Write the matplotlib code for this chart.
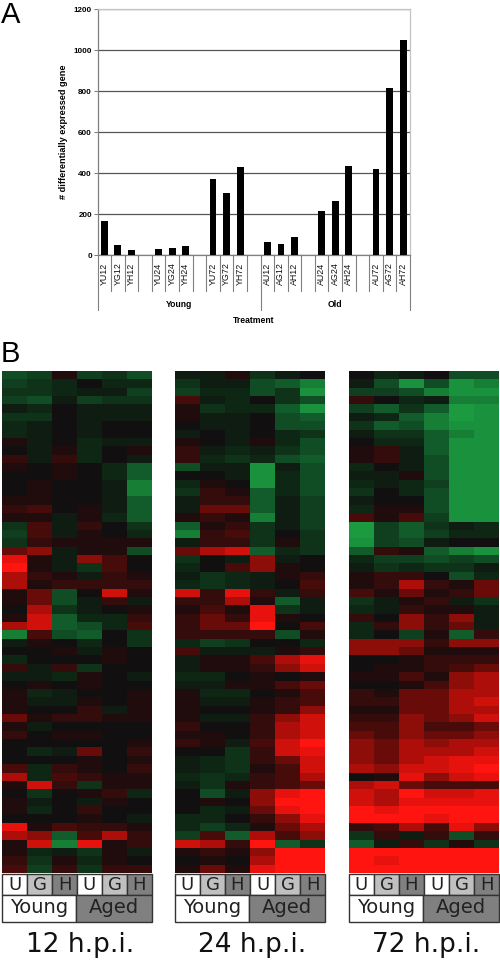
import matplotlib
matplotlib.use("Agg")
import matplotlib.pyplot as plt
import numpy as np
from matplotlib.colors import LinearSegmentedColormap
from matplotlib.patches import Rectangle

W, H = 500, 961

bar_labels = ["YU12", "YG12", "YH12", "", "YU24", "YG24", "YH24", "", "YU72", "YG72", "YH72", "",
              "AU12", "AG12", "AH12", "", "AU24", "AG24", "AH24", "", "AU72", "AG72", "AH72"]
bar_values = [165, 48, 24, 0, 28, 36, 45, 0, 370, 305, 428, 0,
              65, 52, 90, 0, 213, 262, 437, 0, 418, 818, 1050]
y_ticks = [0, 200, 400, 600, 800, 1000, 1200]
group_labels = ["Young", "Old"]
time_labels = ["12 h.p.i.", "24 h.p.i.", "72 h.p.i."]
treatments = ["U", "G", "H", "U", "G", "H"]

# expression per row, columns U G H U G H, -9 green .. 9 red
heat_12 = [
    [-5, -4, 1, -4, -3, -5], [-4, -3, -2, 0, -2, -2], [-3, -3, -2, -1, -1, -4], [-4, -5, -1, -4, -3, -3],
    [-1, -2, 0, -1, -1, -1], [-3, -3, 0, -1, -1, -1], [-2, -1, 0, -1, 0, 0], [-2, -1, 0, -1, 0, 0],
    [1, -1, 0, -2, -1, -1], [0, -1, 1, -2, 0, 1], [2, -1, 2, -2, 0, -1], [1, 0, 1, 0, -2, -6],
    [0, 0, 1, 0, -2, -6], [0, 1, 0, 0, -1, -7], [0, 1, 0, 0, -1, -7], [1, 1, 0, 0, -1, -6],
    [2, 3, 0, 1, -1, -6], [1, 1, -1, 1, -2, -6], [-3, 3, -1, 2, 0, -3], [-4, 3, -1, 1, 0, -2],
    [-3, 2, 1, 1, 1, 1], [4, 5, -1, 1, 1, -5], [8, 1, -1, 5, 3, 0], [9, 1, -1, -3, 3, 0],
    [6, 2, 1, -1, 2, 1], [6, 1, 2, 2, 2, 2], [1, 4, -5, 0, 7, 1], [1, 4, -5, -1, 2, -1],
    [0, 6, -3, -1, 0, 1], [1, 7, -6, -2, -2, 2], [6, 7, -6, -5, -2, 3], [-7, 3, -5, -6, 0, -3],
    [-1, 1, 0, -2, 0, -3], [0, 0, 1, -1, 1, 0], [-2, 0, 0, 0, 1, 0], [2, -1, 2, -3, 0, 0],
    [-1, -1, -2, 1, 0, -1], [0, 1, 0, 1, 0, 0], [1, -2, -1, 0, 0, 1], [1, -1, -1, 1, 0, 1],
    [1, 0, 0, 2, -1, 1], [4, 1, 2, 2, 1, 1], [1, -1, 0, 0, 0, 0], [2, 0, 1, 1, 0, 0],
    [0, 0, 0, 0, 0, 1], [0, -2, -1, 4, 0, 2], [0, 0, 0, 1, 0, 1], [3, -2, 2, 1, 0, 2],
    [6, -2, 3, 2, 1, 1], [1, 7, 2, -3, 1, 1], [0, -3, 0, 1, 2, -2], [1, -1, 0, -1, 1, 0],
    [1, -2, 0, 2, 0, 0], [0, 0, 0, 1, 0, -1], [8, 1, 3, 2, 2, 1], [6, 5, -6, 3, 6, 2],
    [1, 7, -7, 8, 1, 2], [1, -2, -1, -3, 1, -1], [2, -3, 1, -2, 1, 0], [3, -4, 2, -3, 2, 2],
]
heat_24 = [
    [-1, -1, 1, -3, -1, 0], [-3, -1, -1, -5, -6, -7], [-4, -2, -2, -5, -3, -8], [3, -1, -2, 0, -3, -5],
    [1, -3, -2, -2, -6, -8], [1, -1, -1, 0, -5, -6], [0, -1, -1, 0, -5, -5], [-1, 0, -1, 0, -2, -3],
    [1, 0, -1, 1, -2, -5], [2, -1, -2, -1, -3, -5], [2, -2, -3, -2, -5, -6], [-5, -1, -1, -8, -1, -5],
    [0, 0, -1, -8, -2, -5], [-2, 1, 0, -8, -2, -5], [-3, 2, 1, -6, -2, -5], [-1, 2, 2, -6, -1, -4],
    [-1, 4, 4, -6, -1, -4], [1, 2, 1, -7, -1, -4], [-6, 1, 2, -3, -1, -4], [-7, 2, 3, -3, 0, -3],
    [-1, 2, 2, -3, 1, -3], [4, 6, 7, -6, -2, -3], [-3, 0, -1, 5, -1, 0], [-2, 0, 3, 5, 1, 0],
    [-1, -3, -2, -1, 1, 2], [-2, -3, -2, -1, 0, 3], [7, 2, 8, 2, -1, 2], [2, 2, 6, 1, -6, -1],
    [1, 3, 1, 8, -3, -1], [2, 4, 2, 8, 1, 0], [2, 4, 4, 9, 0, 3], [2, 2, 2, 2, -5, 1],
    [-2, -4, -3, 0, 0, -2], [3, -1, -1, -1, 1, 2], [-1, 1, 1, 3, 6, 8], [-1, 1, 1, 2, 5, 7],
    [-2, -2, 0, 1, 0, 1], [-1, -1, 1, 1, 3, 4], [1, -2, -2, 0, 1, 3], [1, -1, -1, 1, 2, 3],
    [1, 0, 0, 1, 2, 5], [1, -1, -1, 2, 5, 7], [2, 0, 0, 2, 6, 7], [1, 1, 0, 2, 6, 7],
    [2, 1, -1, 3, 7, 9], [0, 0, -3, 2, 7, 8], [-1, -2, -3, 2, 4, 7], [-1, -2, -3, 1, 3, 7],
    [-2, -3, -2, 2, 3, 6], [-1, -3, 1, 2, 3, 4], [0, -5, -1, 5, 8, 9], [0, 1, 0, 5, 9, 9],
    [0, -2, -1, 4, 8, 9], [-2, -2, 0, 2, 5, 8], [-2, -4, -2, 1, 4, 6], [-4, 3, -6, 6, 3, 5],
    [7, 6, 2, 9, -6, -3], [1, 2, 1, 5, 9, 9], [0, 1, 0, 6, 9, 9], [1, 4, 1, 8, 9, 9],
]
heat_72 = [
    [0, -2, -1, 0, -5, -5], [-1, -5, -8, -5, -8, -7], [-4, -4, -5, -7, -8, -8], [2, 0, -2, -1, -7, -7],
    [-4, -6, -3, -6, -9, -8], [-1, -2, -6, -7, -9, -8], [-3, -6, -5, -7, -8, -8], [-1, -3, -3, -6, -7, -8],
    [0, -2, -2, -6, -8, -8], [1, 2, -1, -6, -8, -8], [1, 2, -1, -5, -8, -8], [-2, 0, -1, -5, -8, -8],
    [-1, -1, 1, -5, -8, -8], [-2, -1, -2, -4, -8, -8], [-3, 0, -2, -5, -8, -8], [-1, 0, 0, -5, -8, -8],
    [-2, 1, 1, -5, -8, -8], [3, 1, 3, -4, -8, -8], [-9, -4, -6, -3, -1, -2], [-9, -4, -6, -4, -2, -2],
    [-8, -4, -5, -1, 0, 0], [-6, 2, 1, -6, -7, -8], [-2, -4, -4, -5, -4, -5], [-1, -3, -2, -3, -3, -1],
    [1, 2, 2, 0, -5, -2], [1, 2, 6, 2, 1, 4], [3, 1, 4, 1, 2, 4], [-3, -1, 1, 2, -1, -3],
    [-2, -1, 2, 1, 1, -1], [2, 0, 5, 2, 5, -1], [-2, 2, 5, 2, 4, -1], [-2, 0, -4, 1, -6, 2],
    [5, 5, 5, 2, 5, 5], [5, 5, 4, 1, 1, 1], [0, 0, 1, 2, 2, 2], [0, 1, 1, 2, 3, 4],
    [1, 1, 3, 1, 5, 6], [0, 0, 1, 3, 5, 6], [2, 1, 4, 4, 6, 6], [2, 2, 4, 4, 6, 7],
    [1, 1, 4, 4, 6, 6], [2, 2, 5, 4, 5, 7], [3, 3, 5, 3, 3, 4], [4, 3, 5, 4, 4, 5],
    [5, 4, 6, 5, 6, 6], [5, 4, 6, 6, 6, 7], [5, 4, 6, 7, 8, 8], [6, 5, 7, 7, 8, 9],
    [0, 1, 8, 5, 7, 8], [6, 7, 4, 3, 3, 3], [7, 6, 9, 7, 7, 8], [7, 6, 8, 8, 8, 8],
    [9, 8, 9, 9, 9, 9], [9, 9, 9, 8, 9, 9], [2, 3, 6, 3, 8, 5], [-3, 2, -1, 2, -5, 2],
    [-6, -1, 2, -3, 1, -3], [9, 9, 9, 9, 9, 9], [9, 8, 9, 9, 9, 9], [9, 9, 9, 9, 9, 9],
]

# dark around zero, so faint rows stay close to black
heat_cmap = LinearSegmentedColormap.from_list("greenred", [
    (0.0, "#1b9a40"), (1.5 / 18, "#1a8f3c"), (3 / 18, "#125a2a"), (6 / 18, "#0f3319"), (8 / 18, "#0e1c11"),
    (9 / 18, "#111010"), (10 / 18, "#200d0d"), (12 / 18, "#470c0a"), (14 / 18, "#8c0d09"),
    (16 / 18, "#cf100b"), (1.0, "#ff140f"),
])


def px_axes(fig, left, top, right, bottom):
    return fig.add_axes([left / W, 1 - bottom / H, (right - left) / W, (bottom - top) / H])


if __name__ == "__main__":
    plt.rcParams["font.family"] = ["Liberation Sans", "DejaVu Sans"]
    fig = plt.figure(figsize=(W / 100, H / 100), dpi=100)

    # overlay in pixel coordinates for panel letters and label boxes
    over = fig.add_axes([0, 0, 1, 1], zorder=5)
    over.set_xlim(0, W)
    over.set_ylim(H, 0)
    over.axis("off")

    # panel A
    ax = px_axes(fig, 97.5, 9.5, 410, 255)
    x = np.arange(len(bar_values)) + 0.5
    ax.bar(x, bar_values, width=0.5, color="black", zorder=3)
    ax.set_xlim(0, len(bar_values))
    ax.set_ylim(0, 1200)
    ax.set_yticks(y_ticks)
    ax.set_xticks([])
    ax.tick_params(axis="y", labelsize=5.8, length=3, width=0.7, color="#777777", pad=1)
    for lab in ax.get_yticklabels():
        lab.set_fontweight("bold")
    ax.grid(True, axis="y", color="#555555", linewidth=0.9)
    ax.set_axisbelow(True)
    for side in ["top", "right"]:
        ax.spines[side].set_color("#c4c4c4")
    for side in ["left", "bottom"]:
        ax.spines[side].set_color("#808080")
    for spine in ax.spines.values():
        spine.set_linewidth(0.9)

    trans = ax.get_xaxis_transform()
    for i in range(len(bar_values) + 1):
        long_line = i in (0, 12, len(bar_values))
        ax.plot([i, i], [0, -0.226 if long_line else -0.147], transform=trans, clip_on=False,
                color="#808080", linewidth=0.8)
    for pos, label in zip(x, bar_labels):
        if label:
            ax.text(pos, -0.03, label, transform=trans, rotation=90, ha="center", va="top",
                    fontsize=6.4, color="#111111")
    ax.text(6, -0.2, group_labels[0], transform=trans, ha="center", va="center",
            fontsize=6.2, fontweight="bold")
    ax.text(17.5, -0.2, group_labels[1], transform=trans, ha="center", va="center",
            fontsize=6.2, fontweight="bold")
    over.text(254, 320.5, "Treatment", ha="center", va="center", fontsize=6.2, fontweight="bold")
    over.text(63.5, 132, "# differentially expressed gene", rotation=90, ha="center", va="center",
              fontsize=6.6, fontweight="bold")

    over.text(0.5, 23, "A", fontsize=21, ha="left", va="baseline")
    over.text(0.5, 362, "B", fontsize=21, ha="left", va="baseline")

    # panel B
    heatmaps = [heat_12, heat_24, heat_72]
    lefts = [2, 175, 349]
    width = 150
    text_centers = [80, 252, 426]
    for data, left, time_label, tc in zip(heatmaps, lefts, time_labels, text_centers):
        hm = px_axes(fig, left, 371, left + width, 873)
        hm.imshow(np.array(data), cmap=heat_cmap, vmin=-9, vmax=9, aspect="auto", interpolation="nearest")
        hm.axis("off")

        step = width / 6
        for j, t in enumerate(treatments):
            shade = {"U": "white", "G": "#c0c0c0", "H": "#808080"}[t]
            over.add_patch(Rectangle((left + j * step, 873.5), step, 21.5, facecolor=shade,
                                     edgecolor="#333333", linewidth=1))
            over.text(left + (j + 0.5) * step, 885, t, ha="center", va="center", fontsize=13,
                      color="#222222", family="DejaVu Sans")
        over.add_patch(Rectangle((left, 895), width * 0.49, 26.5, facecolor="white",
                                 edgecolor="#333333", linewidth=1))
        over.add_patch(Rectangle((left + width * 0.49, 895), width * 0.51, 26.5, facecolor="#808080",
                                 edgecolor="#333333", linewidth=1))
        over.text(left + width * 0.245, 907.5, "Young", ha="center", va="center", fontsize=14,
                  color="#222222", family="DejaVu Sans")
        over.text(left + width * 0.745, 907.5, "Aged", ha="center", va="center", fontsize=14,
                  color="#222222", family="DejaVu Sans")
        over.text(tc, 945, time_label, ha="center", va="center", fontsize=19,
                  color="#111111", family="DejaVu Sans")

    fig.savefig("out.png", dpi=100)
